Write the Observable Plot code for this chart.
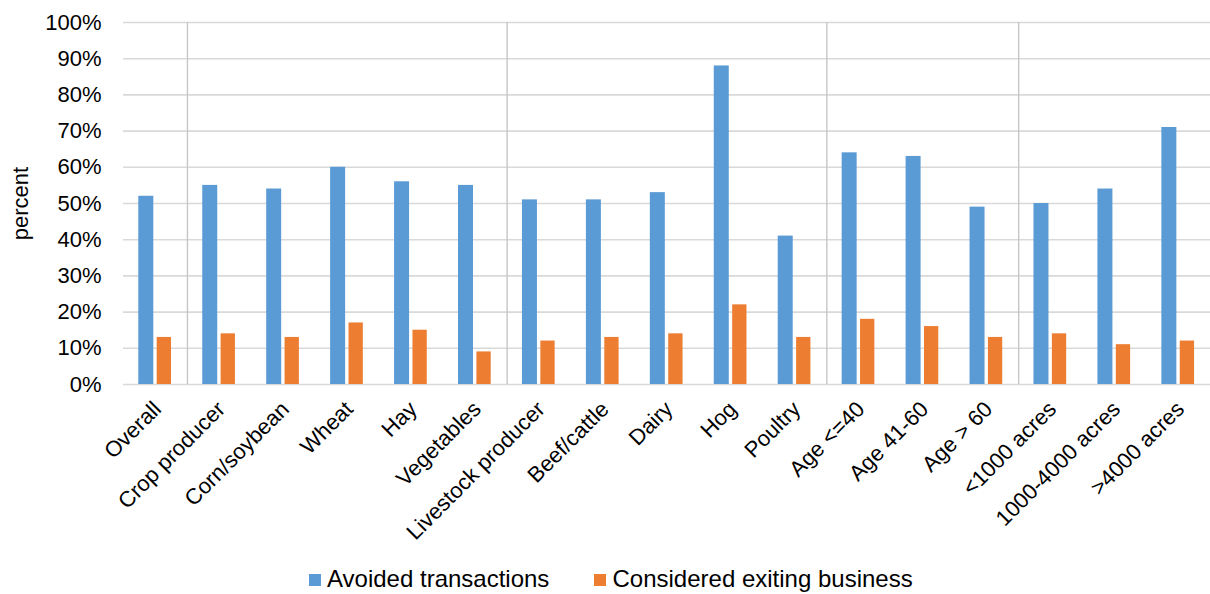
<!DOCTYPE html>
<html>
<head>
<meta charset="utf-8">
<script src="https://cdn.jsdelivr.net/npm/d3@7"></script>
<script src="https://cdn.jsdelivr.net/npm/@observablehq/plot@0.6"></script>
<style>
  body { margin: 0; background: #fff; font-family: "Liberation Sans", Arial, sans-serif; }
  #wrap { position: relative; width: 1210px; height: 594px; }
  .leg { position: absolute; font-size: 24px; line-height: 24px; color: #000; white-space: nowrap; }
  .sw { position: absolute; width: 12px; height: 12px; }
</style>
</head>
<body>
<div id="wrap">
  <div id="chart"></div>
  <div id="legend"></div>
</div>
<script>
const categories = ["Overall", "Crop producer", "Corn/soybean", "Wheat", "Hay", "Vegetables",
  "Livestock producer", "Beef/cattle", "Dairy", "Hog", "Poultry",
  "Age <=40", "Age 41-60", "Age > 60", "<1000 acres", "1000-4000 acres", ">4000 acres"];
const avoided    = [52, 55, 54, 60, 56, 55, 51, 51, 53, 88, 41, 64, 63, 49, 50, 54, 71];
const considered = [13, 14, 13, 17, 15,  9, 12, 13, 14, 22, 13, 18, 16, 13, 14, 11, 12];
const seriesNames = ["Avoided transactions", "Considered exiting business"];
const seriesColors = ["#5B9BD5", "#ED7D31"];
const separatorsBefore = ["Crop producer", "Livestock producer", "Age <=40", "<1000 acres"];
const yTicks = [0, 10, 20, 30, 40, 50, 60, 70, 80, 90, 100];
const yLabel = "percent";

const W = 1210, H = 555, ML = 123, MR = 0, MT = 22, MB = H - 384;
const bw = (W - ML - MR) / categories.length;

const dataA = categories.map((c, i) => ({category: c, value: avoided[i], series: seriesNames[0]}));
const dataC = categories.map((c, i) => ({category: c, value: considered[i], series: seriesNames[1]}));

const chart = Plot.plot({
  width: W,
  height: H,
  marginLeft: ML,
  marginRight: MR,
  marginTop: MT,
  marginBottom: MB,
  style: {fontFamily: "'Liberation Sans', Arial, sans-serif", fontSize: "22px", color: "#000", background: "#fff"},
  x: {domain: categories, padding: 0, round: false},
  y: {domain: [0, 100]},
  color: {domain: seriesNames, range: seriesColors},
  marks: [
    Plot.ruleY(yTicks, {y: d => d, stroke: "#d9d9d9", strokeWidth: 1.6}),
    Plot.ruleX(separatorsBefore, {x: d => d, dx: -bw / 2, stroke: "#c6c6c6", strokeWidth: 1.4}),
    Plot.barY(dataA, {x: "category", y: "value", fill: "series", insetLeft: 15.3, insetRight: bw - 30.3}),
    Plot.barY(dataC, {x: "category", y: "value", fill: "series", insetLeft: 33.7, insetRight: bw - 48}),
    Plot.axisY(yTicks, {tickSize: 0, tickPadding: 22, tickFormat: d => d + "%", fontSize: 22, label: null}),
    Plot.text([yLabel], {text: d => d, frameAnchor: "left", rotate: -90, dx: -103, lineAnchor: "middle",
      textAnchor: "middle", fontSize: 22, fill: "#000"}),
    Plot.axisX({tickSize: 0, tickRotate: -45, tickPadding: 21, dx: 2, fontSize: 22, label: null})
  ]
});
document.getElementById("chart").appendChild(chart);

// make sure every chart text is laid out at its intended size
chart.querySelectorAll("text").forEach(t => {
  if (t.textContent === yLabel) t.style.fontSize = "22px";
  t.getBoundingClientRect();
});

const legend = document.getElementById("legend");
const legPos = [{sw: 309, tx: 327}, {sw: 594, tx: 612.5}];
seriesNames.forEach((name, i) => {
  const sw = document.createElement("div");
  sw.className = "sw";
  sw.style.left = legPos[i].sw + "px";
  sw.style.top = "573.5px";
  sw.style.background = seriesColors[i];
  legend.appendChild(sw);
  const t = document.createElement("div");
  t.className = "leg";
  t.style.left = legPos[i].tx + "px";
  t.style.top = "567px";
  t.textContent = name;
  legend.appendChild(t);
});
</script>
</body>
</html>
